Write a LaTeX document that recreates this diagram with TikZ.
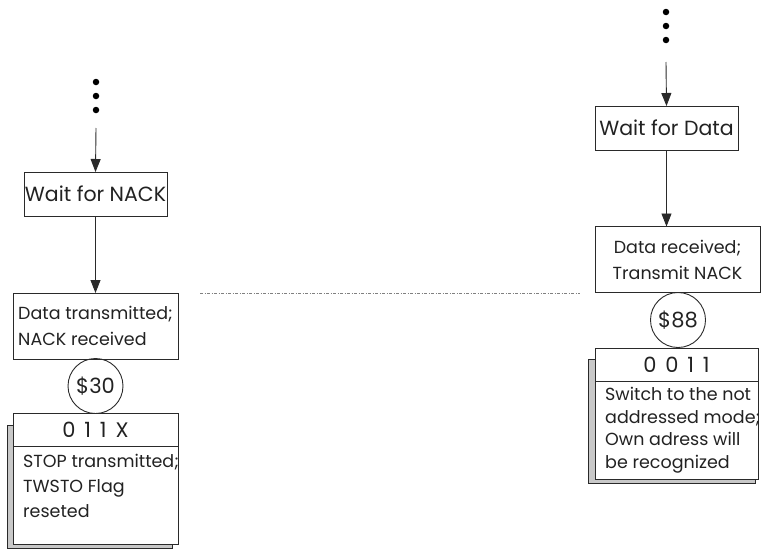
\documentclass[tikz,border=0pt]{standalone}
\usepackage{fontspec}
\setmainfont{Poppins}
\usetikzlibrary{arrows.meta,calc}
\definecolor{edge}{HTML}{2A2A2A}
\definecolor{shade}{HTML}{C8C8C8}
\definecolor{ink}{HTML}{222222}
\newcommand{\dgap}{\hspace{0.42em}}
\begin{document}
\begin{tikzpicture}[x=1pt,y=-1pt,
  box/.style={draw=edge, line width=0.9pt, inner sep=0pt, outer sep=0pt, fill=white, text=ink},
  waitbox/.style={box, minimum width=143pt, minimum height=44pt, font=\fontsize{20.5}{22}\selectfont},
  eventbox/.style={box, minimum width=165pt, minimum height=66pt, align=left, font=\fontsize{17.5}{26}\selectfont},
  hdr/.style={box, minimum height=33pt, font=\fontsize{21}{24}\selectfont},
  body/.style={box},
  bodytext/.style={anchor=north west, inner sep=0pt, text=ink, align=left, font=\fontsize{17.5}{25}\selectfont},
  state/.style={circle, draw=edge, line width=0.9pt, minimum size=55pt, inner sep=0pt, text=ink, font=\fontsize{21}{22}\selectfont},
  dot/.style={circle, fill=black, inner sep=0pt, minimum size=6.5pt},
  flow/.style={draw=edge, line width=0.9pt, -{Triangle[length=13pt,width=10pt]}},
  shadowbox/.style={fill=shade, draw=edge, line width=0.8pt},
  divider/.style={draw=gray, line width=0.8pt, dash pattern=on 3pt off 1.5pt on 1pt off 1.5pt}
]
\useasboundingbox (0,0) rectangle (763,549);

% ---------- left column: master transmitter ----------
\node[dot] (dl1) at (96,82) {};
\node[dot] (dl2) at (96,96) {};
\node[dot] (dl3) at (96,110) {};
\coordinate (inL) at (96,128);

\node[waitbox] (waitN) at (95.5,194) {Wait for NACK};
\node[eventbox] (dataT) at (95.5,326) {Data transmitted;\\NACK received};
\node[state] (s30) at (95.5,386) {\$30};

% status register box with drop shadow
\coordinate (shL1) at (7,425);
\coordinate (shL2) at (172,548);
\draw[shadowbox] (shL1) rectangle (shL2);
\node[hdr, minimum width=165pt] (hdrL) at (95.5,429.5) {0\dgap 1\dgap 1\dgap X};
\node[body, minimum width=165pt, minimum height=98pt, anchor=north] (bodyL) at (hdrL.south) {};
\node[bodytext] (txtL) at ($(bodyL.north west)+(10,8)$)
  {STOP transmitted;\\TWSTO Flag\\reseted};

\draw[flow] (inL) -- (waitN.north);
\draw[flow] (waitN.south) -- (dataT.north);

% ---------- right column: slave receiver ----------
\node[dot] (dr1) at (666,12) {};
\node[dot] (dr2) at (666,26) {};
\node[dot] (dr3) at (666,40) {};
\coordinate (inR) at (666,62);

\node[waitbox] (waitD) at (666.5,128) {Wait for Data};
\node[eventbox, align=center] (dataR) at (677.5,259.5) {Data received;\\Transmit NACK};
\node[state] (s88) at (678,320) {\$88};

\coordinate (shR1) at (588,359);
\coordinate (shR2) at (755,483);
\draw[shadowbox] (shR1) rectangle (shR2);
\node[hdr, minimum width=163pt] (hdrR) at (676.5,364.5) {0\dgap 0\dgap 1\dgap 1};
\node[body, minimum width=163pt, minimum height=98pt, anchor=north] (bodyR) at (hdrR.south) {};
\node[bodytext, font=\fontsize{17.5}{22.5}\selectfont] (txtR) at ($(bodyR.north west)+(10,6)$)
  {Switch to the not\\addressed mode;\\Own adress will\\be recognized};

\coordinate (hitR) at (waitD.south |- dataR.north);
\draw[flow] (inR) -- (waitD.north);
\draw[flow] (waitD.south) -- (hitR);

% ---------- separator between the two sides ----------
\coordinate (sepA) at (200,293);
\coordinate (sepB) at (580,293);
\draw[divider] (sepA) -- (sepB);
\end{tikzpicture}
\end{document}
